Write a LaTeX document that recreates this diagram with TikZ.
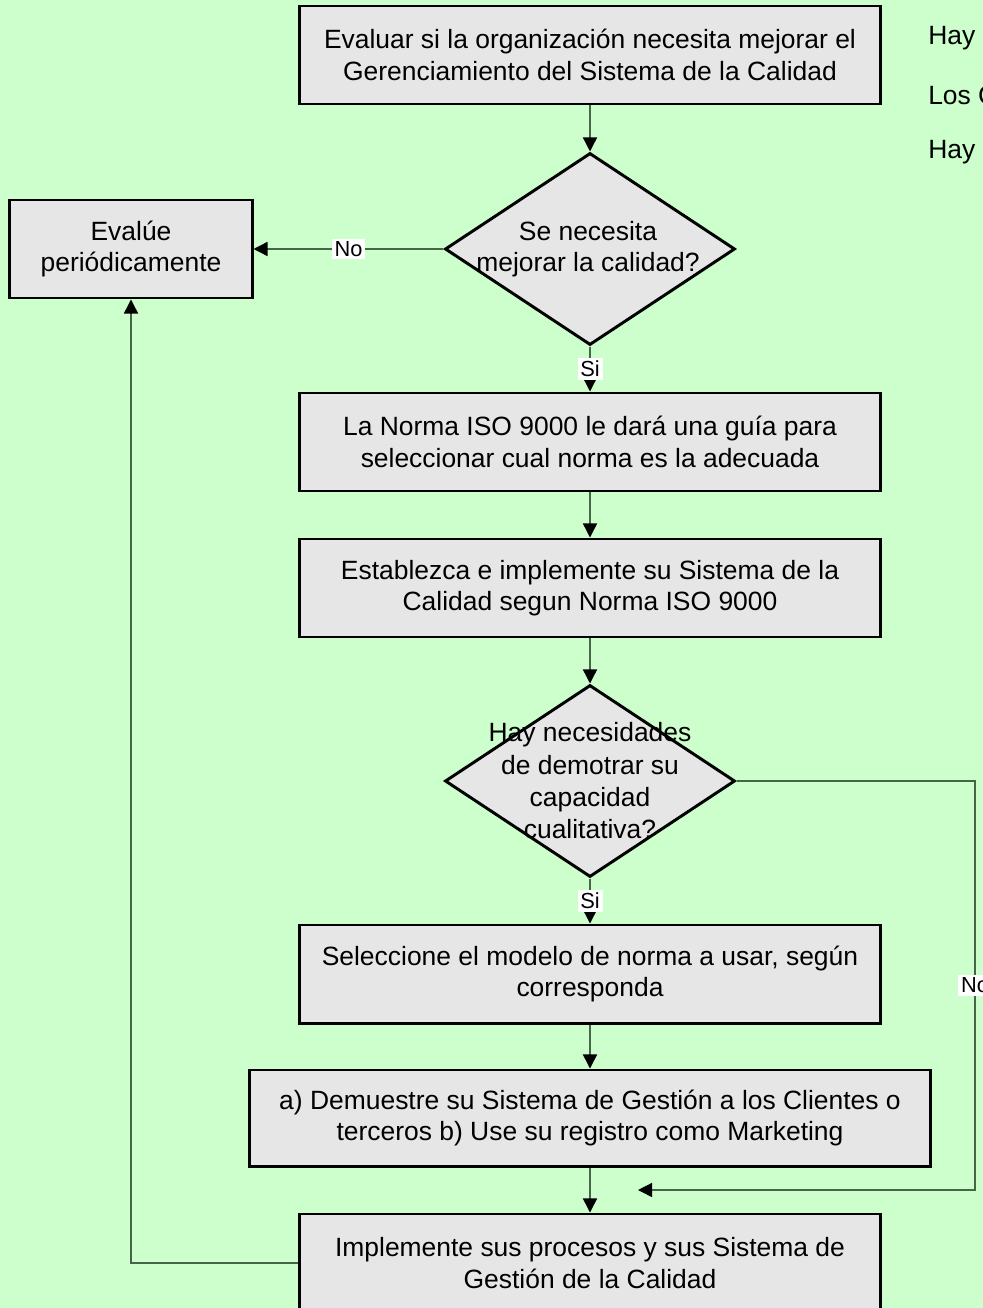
\documentclass[tikz,border=0pt]{standalone}
\usepackage{fontspec}
\setmainfont{Liberation Sans}
\usetikzlibrary{shapes.geometric,arrows.meta}
\definecolor{bggreen}{RGB}{204,255,204}
\definecolor{boxgray}{RGB}{230,230,230}
\definecolor{linkcol}{RGB}{70,100,70}
\tikzset{every node/.style={font=\fontsize{18.8}{22.3}\selectfont, align=center, inner sep=0pt},
  box/.style={draw=black, line width=2.1pt, fill=boxgray, minimum width=14.5cm, minimum height=2.45cm},
  decision/.style={diamond, draw=black, line width=2.1pt, fill=boxgray, minimum width=7.25cm, minimum height=4.8cm},
  link/.style={draw=linkcol, line width=1pt, -{Triangle[length=10pt,width=10pt,black]}},
  lbl/.style={fill=white, inner sep=2pt, font=\fontsize{15.5}{17}\selectfont}}

\begin{document}
\begin{tikzpicture}[x=0.025cm,y=-0.025cm]
  \useasboundingbox (0,0) rectangle (983,1308);
  \fill[bggreen] (0,0) rectangle (983,1308);

  % main column
  \node[box] (eval) at (590,55) {Evaluar si la organización necesita mejorar el\\Gerenciamiento del Sistema de la Calidad};
  \node[decision] (q1) at (590,249) {};
  \node (q1txt) at (588,249) {Se necesita\\mejorar la calidad?};
  \node[box, minimum width=6.05cm] (review) at (131,249) {Evalúe\\periódicamente};
  \node[box] (guide) at (590,442) {La Norma ISO 9000 le dará una guía para\\seleccionar cual norma es la adecuada};
  \node[box] (setup) at (590,588) {Establezca e implemente su Sistema de la\\Calidad segun Norma ISO 9000};
  \node[decision] (q2) at (590,781) {};
  \node[font=\fontsize{18.8}{23}\selectfont] (q2txt) at (q2) {Hay necesidades\\de demotrar su\\capacidad\\cualitativa?};
  \node[box] (select) at (590,974) {Seleccione el modelo de norma a usar, según\\corresponda};
  \node[box, minimum width=17cm, minimum height=2.4cm] (show) at (590,1118) {a) Demuestre su Sistema de Gestión a los Clientes o\\terceros b) Use su registro como Marketing};
  \node[box] (impl) at (590,1263) {Implemente sus procesos y sus Sistema de\\Gestión de la Calidad};

  % notes cut by the right edge
  \node[anchor=west] (note1) at (928,38) {Hay n};
  \node[anchor=west] (note2) at (928,95) {Los C};
  \node[anchor=west] (note3) at (928,152) {Hay};

  \coordinate (loopr) at (975,1190);
  \coordinate (merge) at (638,1190);

  % connectors
  \draw[link] (eval) -- (q1);
  \draw[link] (q1) -- node[lbl]{No} (review);
  \draw[link] (q1) -- node[lbl]{Si} (guide);
  \draw[link] (guide) -- (setup);
  \draw[link] (setup) -- (q2);
  \draw[link] (q2) -- node[lbl]{Si} (select);
  \draw[link] (select) -- (show);
  \draw[link] (show) -- (impl);
  \draw[link] (q2.east) -| node[lbl,pos=0.75]{No} (loopr) -- (merge);
  \draw[link] (impl.west) -| (review.south);
\end{tikzpicture}
\end{document}
